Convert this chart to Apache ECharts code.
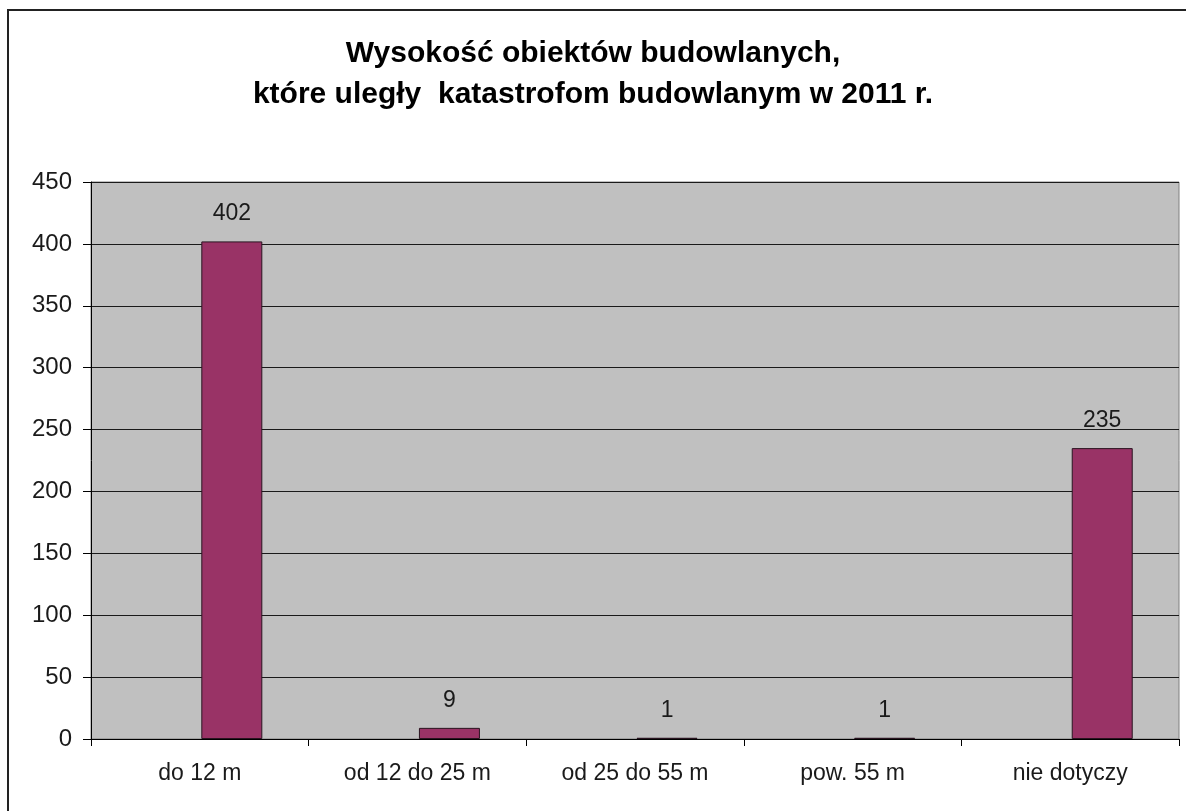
<!DOCTYPE html>
<html>
<head>
<meta charset="utf-8">
<title>Wysokość obiektów budowlanych</title>
<script src="https://cdn.jsdelivr.net/npm/echarts@6/dist/echarts.min.js"></script>
<style>
  html, body { margin: 0; padding: 0; background: #ffffff; }
  #chart { width: 1186px; height: 811px; }
</style>
</head>
<body>
<div id="chart"></div>
<script>
// Building heights of structures affected by construction disasters, 2011
const categories = ['do 12 m', 'od 12 do 25 m', 'od 25 do 55 m', 'pow. 55 m', 'nie dotyczy'];
const counts = [402, 9, 1, 1, 235];
const yTicks = { min: 0, max: 450, step: 50 };
const titleLines = ['Wysokość obiektów budowlanych,', 'które uległy  katastrofom budowlanym w 2011 r.'];

const FONT = '"Liberation Sans", Arial, sans-serif';

const chart = echarts.init(document.getElementById('chart'), null, { renderer: 'canvas' });

chart.setOption({
  backgroundColor: '#ffffff',
  animation: false,
  title: {
    text: titleLines.join('\n'),
    left: 'center',
    top: 28,
    textStyle: {
      fontFamily: FONT,
      fontSize: 30,
      fontWeight: 'bold',
      color: '#000000',
      lineHeight: 41
    }
  },
  graphic: [{
    type: 'rect',
    z: -1,
    silent: true,
    shape: { x: 8, y: 10, width: 1300, height: 900 },
    style: { fill: 'none', stroke: '#222222', lineWidth: 2 }
  }],
  grid: {
    left: 91,
    right: 7,
    top: 182,
    bottom: 72,
    show: true,
    backgroundColor: '#c0c0c0',
    borderColor: '#808080',
    borderWidth: 1
  },
  xAxis: {
    type: 'category',
    data: categories,
    boundaryGap: true,
    axisLine: { show: true, lineStyle: { color: '#000000', width: 1 } },
    axisTick: { show: true, length: 7, alignWithLabel: false, lineStyle: { color: '#000000' } },
    axisLabel: {
      interval: 0,
      margin: 23,
      fontFamily: FONT,
      fontSize: 23,
      color: '#1a1a1a'
    },
    splitLine: { show: false }
  },
  yAxis: {
    type: 'value',
    min: yTicks.min,
    max: yTicks.max,
    interval: yTicks.step,
    axisLine: { show: true, lineStyle: { color: '#000000', width: 1 } },
    axisTick: { show: true, length: 8, lineStyle: { color: '#000000' } },
    axisLabel: {
      margin: 19,
      fontFamily: FONT,
      fontSize: 24,
      color: '#1a1a1a'
    },
    splitLine: { show: true, lineStyle: { color: '#1a1a1a', width: 1 } }
  },
  series: [
    {
      // empty column slot: keeps each bar to the right of its category centre
      type: 'bar',
      name: '',
      data: [],
      barWidth: 61,
      barGap: '5%'
    },
    {
      type: 'bar',
      name: 'Liczba katastrof',
      data: counts,
      barWidth: 61,
      barGap: '5%',
      itemStyle: {
        color: '#993366',
        borderColor: '#2a1420',
        borderWidth: 1
      },
      label: {
        show: true,
        position: 'top',
        distance: 16,
        fontFamily: FONT,
        fontSize: 23,
        color: '#1a1a1a'
      }
    }
  ]
});
</script>
</body>
</html>
